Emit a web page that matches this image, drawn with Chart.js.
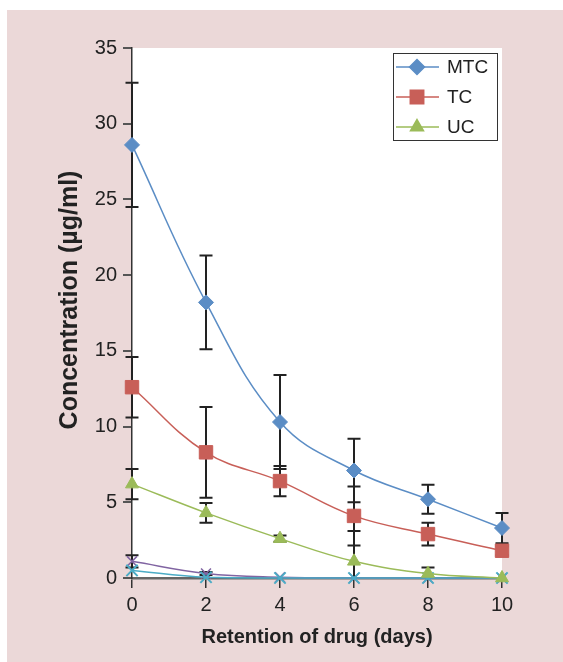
<!DOCTYPE html>
<html>
<head>
<meta charset="utf-8">
<script src="https://cdn.jsdelivr.net/npm/chart.js@4.4.1/dist/chart.umd.min.js"></script>
<style>
  html, body { margin: 0; padding: 0; background: #fff; }
</style>
</head>
<body>
<canvas id="drugChart" width="563" height="662"></canvas>
<script>
// Data
const days = [0, 2, 4, 6, 8, 10];
const yTicks = [0, 5, 10, 15, 20, 25, 30, 35];

const mtc = [28.6, 18.2, 10.3, 7.1, 5.2, 3.3];
const mtcErr = [4.1, 3.1, 3.1, 2.1, 0.95, 1.0];
const tc = [12.6, 8.3, 6.4, 4.1, 2.9, 1.8];
const tcErr = [2.0, 3.0, 1.0, 1.95, 0.75, 0.3];
const uc = [6.2, 4.3, 2.6, 1.1, 0.3, 0.0];
const ucErr = [1.0, 0.65, 0.2, 2.0, 0.4, 0.0];
// two unlabelled series near zero
const extra1 = [1.1, 0.3, 0.05, 0.0, 0.0, 0.0];
const extra1Err = [0.4, 0.1, 0, 0, 0, 0];
const extra2 = [0.5, 0.05, 0.0, 0.0, 0.0, 0.0];

const ctx = document.getElementById("drugChart").getContext("2d");
const FONT = "'Liberation Sans', Arial, Helvetica, sans-serif";

// Pink page + white plot area
const backgroundPlugin = {
  id: "background",
  beforeDraw(chart) {
    const c = chart.ctx;
    const a = chart.chartArea;
    c.save();
    c.fillStyle = "#ffffff";
    c.fillRect(0, 0, chart.width, chart.height);
    c.fillStyle = "#ebd8d8";
    c.fillRect(7, 10, chart.width - 7, chart.height - 10);
    c.fillStyle = "#ffffff";
    c.fillRect(a.left, a.top, a.right - a.left, a.bottom - a.top);
    c.restore();
  },
};

// Error bars from each dataset's err array
const errorBarPlugin = {
  id: "errorBars",
  beforeDatasetsDraw(chart) {
    const c = chart.ctx;
    const yScale = chart.scales.y;
    const bottom = chart.chartArea.bottom;
    c.save();
    c.strokeStyle = "#222";
    c.lineWidth = 2;
    chart.data.datasets.forEach((ds, i) => {
      if (!ds.err) return;
      const meta = chart.getDatasetMeta(i);
      meta.data.forEach((pt, j) => {
        const e = ds.err[j];
        if (!e) return;
        const v = ds.data[j].y;
        const yHi = yScale.getPixelForValue(v + e);
        let yLo = yScale.getPixelForValue(v - e);
        const loCap = yLo <= bottom;
        if (!loCap) yLo = bottom;
        const x = pt.x;
        c.beginPath();
        c.moveTo(x, yHi);
        c.lineTo(x, yLo);
        c.moveTo(x - 6.5, yHi);
        c.lineTo(x + 6.5, yHi);
        if (loCap) {
          c.moveTo(x - 6.5, yLo);
          c.lineTo(x + 6.5, yLo);
        }
        c.stroke();
      });
    });
    c.restore();
  },
};

// Boxed legend with line-through-marker samples, and the y title
const legendPlugin = {
  id: "boxLegend",
  afterDraw(chart) {
    const c = chart.ctx;
    c.save();
    c.fillStyle = "#fff";
    c.fillRect(393.5, 53.5, 104, 87);
    c.strokeStyle = "#333";
    c.lineWidth = 1;
    c.strokeRect(393.5, 53.5, 104, 87);
    let y = 67;
    chart.data.datasets.forEach((ds) => {
      if (!ds.inLegend) return;
      c.strokeStyle = ds.borderColor;
      c.lineWidth = 1.5;
      c.beginPath();
      c.moveTo(396, y);
      c.lineTo(439, y);
      c.stroke();
      c.fillStyle = ds.pointBackgroundColor;
      c.strokeStyle = ds.pointBorderColor;
      Chart.helpers.drawPoint(c, {
        pointStyle: ds.pointStyle,
        radius: ds.pointRadius,
        rotation: 0,
        borderWidth: 1,
      }, 417, y);
      c.fillStyle = "#222";
      c.font = "19px " + FONT;
      c.textBaseline = "middle";
      c.textAlign = "left";
      c.fillText(ds.label, 447, y + 1);
      y += 30;
    });

    // y axis title
    c.translate(70, 300);
    c.rotate(-Math.PI / 2);
    c.font = "bold 25px " + FONT;
    c.fillStyle = "#222";
    c.textAlign = "center";
    c.textBaseline = "middle";
    c.fillText("Concentration (\u00b5g/ml)", 0, 0);
    c.restore();
  },
};

function series(label, data, err, color, style, radius, width, inLegend) {
  return {
    label: label,
    data: data.map((v, i) => ({ x: days[i], y: v })),
    err: err,
    inLegend: inLegend,
    borderColor: color,
    backgroundColor: color,
    pointBackgroundColor: color,
    pointBorderColor: color,
    pointStyle: style,
    pointRadius: radius,
    pointHoverRadius: radius,
    pointBorderWidth: width,
    borderWidth: 1.5,
    tension: 0.4,
    fill: false,
    clip: false,
  };
}

// earlier datasets are painted on top, so cyan goes before purple
const drugChart = new Chart(ctx, {
  type: "line",
  data: {
    datasets: [
      series("MTC", mtc, mtcErr, "#5b8dc5", "rectRot", 7.5, 1, true),
      series("TC", tc, tcErr, "#c85f58", "rect", 9.5, 1, true),
      series("UC", uc, ucErr, "#9bbb59", "triangle", 7.5, 1, true),
      series("", extra2, null, "#4bacc6", "crossRot", 8, 2, false),
      series("", extra1, extra1Err, "#8064a2", "crossRot", 7, 1.5, false),
    ],
  },
  options: {
    responsive: false,
    animation: false,
    layout: { padding: { left: 0, right: 61, top: 48, bottom: 0 } },
    scales: {
      x: {
        type: "linear",
        min: 0,
        max: 10,
        afterFit: (scale) => { scale.height = 84; },
        afterBuildTicks: (scale) => { scale.ticks = days.map((v) => ({ value: v })); },
        grid: { drawOnChartArea: false, drawTicks: true, tickLength: 10, color: "#333", lineWidth: 1.5 },
        border: { display: true, color: "#666", width: 2.5 },
        ticks: { color: "#222", padding: 5, font: { family: FONT, size: 20 } },
        title: {
          display: true,
          text: "Retention of drug (days)",
          color: "#222",
          font: { family: FONT, size: 20, weight: "bold" },
          padding: { top: 0, bottom: 13 },
        },
      },
      y: {
        min: 0,
        max: 35,
        afterFit: (scale) => { scale.width = 132; },
        afterBuildTicks: (scale) => { scale.ticks = yTicks.map((v) => ({ value: v })); },
        grid: { drawOnChartArea: false, drawTicks: true, tickLength: 9, color: "#555", lineWidth: 2 },
        border: { display: true, color: "#333", width: 1.5 },
        ticks: { color: "#222", padding: 6, font: { family: FONT, size: 20 } },
      },
    },
    plugins: {
      legend: { display: false },
      tooltip: { enabled: false },
    },
  },
  plugins: [backgroundPlugin, errorBarPlugin, legendPlugin],
});
</script>
</body>
</html>
